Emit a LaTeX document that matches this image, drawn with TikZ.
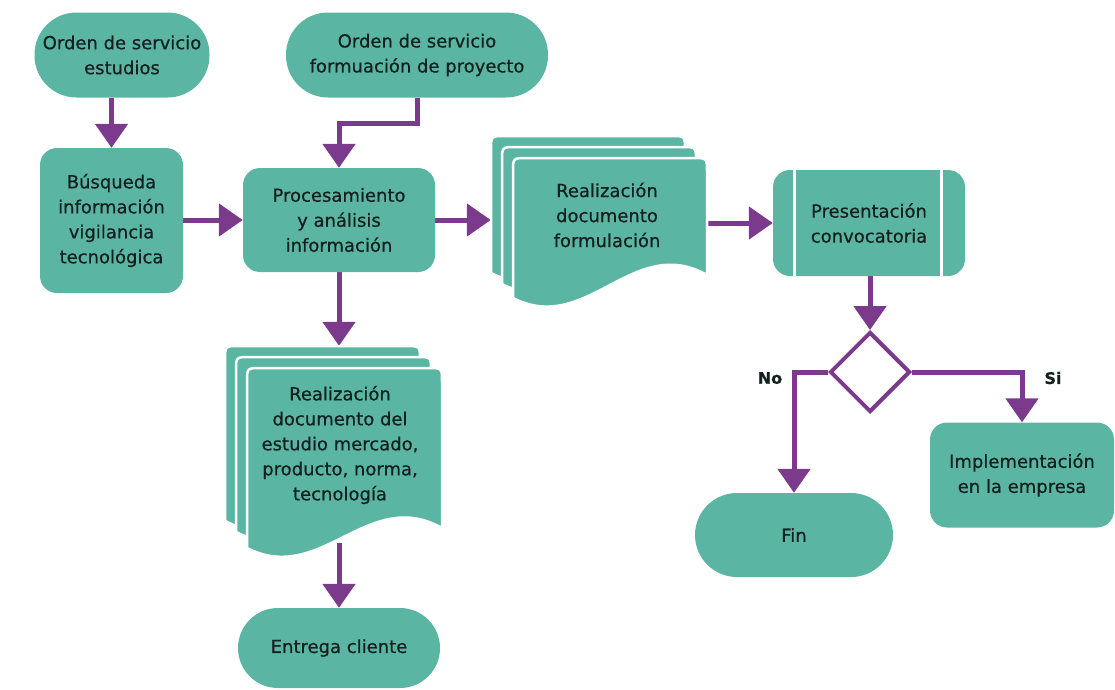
\documentclass[tikz,border=0pt]{standalone}
\usepackage{fontspec}
\setmainfont{DejaVu Sans}[FakeBold=0.6]
\usetikzlibrary{arrows.meta,shapes.geometric,calc}
\definecolor{tealfill}{HTML}{5BB5A3}
\definecolor{purp}{HTML}{7B3A8C}
\definecolor{txtc}{HTML}{142020}
\pgfdeclarelayer{bg}
\pgfsetlayers{bg,main}
\newcommand\docshp[5]{%
 \path[fill=tealfill, draw=white, line width=2.5pt]
  (#1,{#2+#4}) -- (#1,{#2+14}) .. controls (#1,#2) .. ({#1+14},#2)
  -- ({#1+#3-14},#2) .. controls ({#1+#3},#2) .. ({#1+#3},{#2+14})
  -- ({#1+#3},{#2+#5}) .. controls ({#1+0.62*#3},{#2+#5-42}) and ({#1+0.38*#3},{#2+#4+38}) .. (#1,{#2+#4}) -- cycle;}
\begin{document}
\begin{tikzpicture}[x=1pt,y=-1pt,
  every node/.style={font=\fontsize{18}{25}\selectfont, text=txtc, align=center},
  termbox/.style={fill=tealfill, inner sep=0pt},
  procbox/.style={fill=tealfill, rounded corners=17pt, inner sep=0pt},
  conn/.style={draw=purp, line width=5pt, -{Triangle[width=32pt,length=24pt]}},
  lbl/.style={font=\fontsize{16}{20}\selectfont\bfseries}
]
\useasboundingbox (0,0) rectangle (1115,689);

% terminals
\node[termbox, rounded corners=42pt, minimum width=175pt, minimum height=85pt] (ordA) at (122,55) {Orden de servicio\\estudios};
\node[termbox, rounded corners=42pt, minimum width=262pt, minimum height=85pt] (ordB) at (417,55) {Orden de servicio\\formuación de proyecto};

% process boxes
\node[procbox, minimum width=143pt, minimum height=145pt] (busq) at (111.5,220.5) {Búsqueda\\información\\vigilancia\\tecnológica};
\node[procbox, minimum width=192pt, minimum height=104pt] (proc) at (339,220) {Procesamiento\\y análisis\\información};

% document formulacion
\docshp{491}{136}{194}{137}{117}
\docshp{502}{147}{194}{137}{117}
\docshp{513}{158}{194}{140}{117}
\node[minimum width=194pt, minimum height=137pt, inner sep=0pt] (docFB) at (588,204.5) {};
\node[minimum width=194pt, minimum height=137pt, inner sep=0pt] (docF) at (610,226.5) {};
\node (docFt) at (607,215) {Realización\\documento\\formulación};

% presentacion
\node[procbox, minimum width=192pt, minimum height=106pt] (pres) at (869,223) {Presentación\\convocatoria};
\draw[white, line width=3pt] ([xshift=22pt]pres.north west) -- ([xshift=22pt]pres.south west);
\draw[white, line width=3pt] ([xshift=-24pt]pres.north east) -- ([xshift=-24pt]pres.south east);

% decision
\node[diamond, fill=white, draw=purp, line width=4pt, minimum width=80pt, minimum height=80pt, inner sep=0pt] (dia) at (870,372) {};
\node[lbl] (no) at (770,378) {No};
\node[lbl] (si) at (1053,378) {Si};

\node[termbox, rounded corners=42pt, minimum width=198pt, minimum height=84pt] (fin) at (794,535) {Fin};
\node[procbox, minimum width=184pt, minimum height=105pt] (impl) at (1022,475) {Implementación\\en la empresa};

% document estudio
\docshp{225}{346}{195}{175}{160}
\docshp{236}{357}{195}{175}{160}
\docshp{247}{368}{195}{180}{160}
\node[minimum width=195pt, minimum height=175pt, inner sep=0pt] (docEB) at (322.5,433.5) {};
\node[minimum width=195pt, minimum height=175pt, inner sep=0pt] (docE) at (344.5,455.5) {};
\node (docEt) at (340,445) {Realización\\documento del\\estudio mercado,\\producto, norma,\\tecnología};

\node[termbox, rounded corners=40pt, minimum width=202pt, minimum height=80pt] (entrega) at (339,648) {Entrega cliente};

% connectors
\begin{pgfonlayer}{bg}
\draw[conn] (busq.north |- ordA.south) -- (busq.north);
\draw[conn] (ordB.south) -- (ordB.south |- 0,123) -| (proc.north);
\draw[conn] (busq.east |- proc.west) -- (proc.west);
\draw[conn] (proc.east) -- (proc.east -| docFB.west);
\draw[conn] (pres.west -| docF.east) -- (pres.west);
\draw[conn] (proc.south) -- (proc.south |- docEB.north);
\draw[conn] (docE.south -| entrega.north) -- (entrega.north);
\draw[conn] (pres.south -| dia.north) -- (dia.north);
\draw[conn] (dia.west) -| (fin.north);
\draw[conn] (dia.east) -| (impl.north);
\end{pgfonlayer}
\end{tikzpicture}
\end{document}
